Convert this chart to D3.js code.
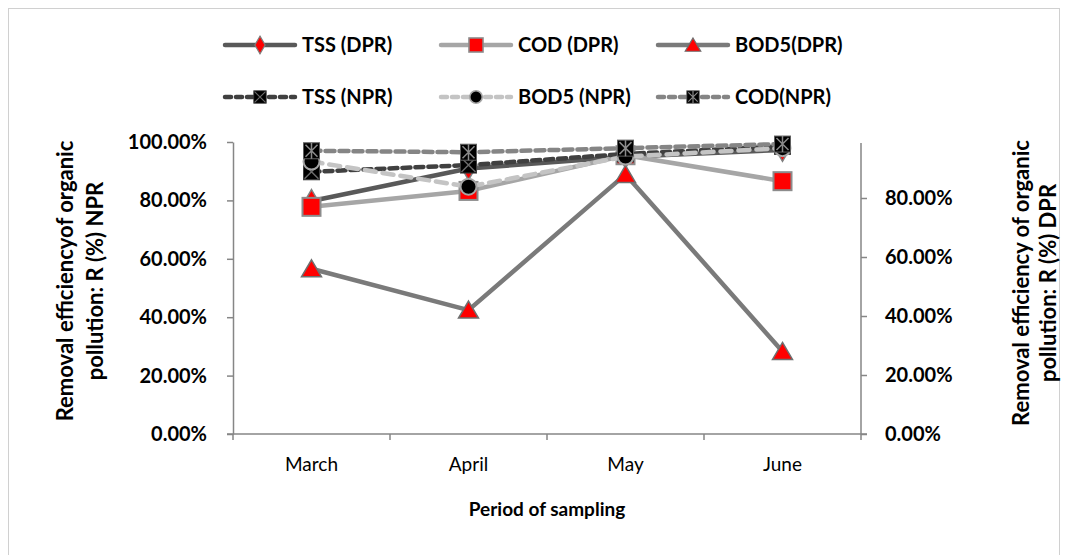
<!DOCTYPE html>
<html>
<head>
<meta charset="utf-8">
<script src="https://cdn.jsdelivr.net/npm/d3@7.9.0/dist/d3.min.js"></script>
<style>
  body { margin: 0; background: #fff; }
  svg { display: block; font-family: Lato, "Open Sans", sans-serif; }
</style>
</head>
<body>
<svg id="chart" width="1067" height="555"></svg>
<script>
// Data
const months = ["March", "April", "May", "June"];
const tssDPR = [0.79, 0.90, 0.94, 0.963];
const codDPR = [0.77, 0.824, 0.945, 0.857];
const bod5DPR = [0.56, 0.42, 0.88, 0.28];
const tssNPR = [0.898, 0.921, 0.959, 0.985];
const bod5NPR = [0.933, 0.847, 0.95, 0.979];
const codNPR = [0.970, 0.965, 0.979, 0.993];
const leftTicks = [0, 0.2, 0.4, 0.6, 0.8, 1.0];
const rightTicks = [0, 0.2, 0.4, 0.6, 0.8];

const svg = d3.select("#chart");
const axisColor = "#868686";

// Outer chart border
svg.append("rect")
  .attr("x", 8.5).attr("y", 8.5)
  .attr("width", 1051).attr("height", 560)
  .attr("fill", "none").attr("stroke", "#d0d0d0");

// Scales
const x = d3.scaleBand().domain(months).range([233, 861]);
const cx = (m) => x(m) + x.bandwidth() / 2;
const yLeft = d3.scaleLinear().domain([0, 1]).range([434, 142]);
const yRight = d3.scaleLinear().domain([0, 0.8]).range([434, 198]);

// Axes
const fmt = d3.format(".2%");
const leftAxis = svg.append("g").attr("transform", "translate(233,0)")
  .call(d3.axisLeft(yLeft).tickValues(leftTicks).tickFormat(fmt).tickSize(6).tickSizeOuter(0).tickPadding(20));
const rightAxis = svg.append("g").attr("transform", "translate(861,0)")
  .call(d3.axisRight(yRight).tickValues(rightTicks).tickFormat(fmt).tickSize(6).tickSizeOuter(0).tickPadding(18));
rightAxis.select(".domain").attr("d", `M0,434V143`);

const xAxis = svg.append("g").attr("transform", "translate(0,434)")
  .call(d3.axisBottom(x).tickSize(0).tickPadding(24));
xAxis.select(".domain").attr("d", "M227,0H867");
// category boundary ticks
xAxis.selectAll(".bound").data(d3.range(months.length + 1)).enter().append("line")
  .attr("class", "bound")
  .attr("x1", (i) => 233 + i * x.bandwidth()).attr("x2", (i) => 233 + i * x.bandwidth())
  .attr("y1", 0).attr("y2", 6)
  .attr("stroke", axisColor).attr("stroke-width", 1.5);

[leftAxis, rightAxis, xAxis].forEach((g) => {
  g.selectAll(".domain").attr("stroke", axisColor).attr("stroke-width", 1.5);
  g.selectAll(".tick line").attr("stroke", axisColor).attr("stroke-width", 1.5);
  g.selectAll("text").attr("fill", "#000").style("font-family", "Lato, sans-serif");
});
leftAxis.selectAll("text").style("font-size", "20px").style("font-weight", "bold");
rightAxis.selectAll("text").style("font-size", "20px").style("font-weight", "bold");
xAxis.selectAll(".tick text").style("font-size", "19px");

// Axis titles
svg.append("text").attr("x", 547).attr("y", 516).attr("text-anchor", "middle")
  .style("font-size", "19px").style("font-weight", "bold").text("Period of sampling");

function axisTitle(xc, yc, gap, lines) {
  const t = svg.append("text")
    .attr("transform", `translate(${xc},${yc}) rotate(-90)`)
    .attr("text-anchor", "middle")
    .style("font-size", "22px").style("font-weight", "bold");
  lines.forEach((l, i) => t.append("tspan").attr("x", 0).attr("dy", i === 0 ? 0 : gap).text(l));
}
axisTitle(73, 281, 30, ["Removal efficiencyof organic", "pollution: R (%) NPR"]);
axisTitle(1029, 283, 27, ["Removal efficiency of organic", "pollution: R (%) DPR"]);

// Marker drawers
const markers = {
  diamond(g) {
    g.append("path").attr("d", d3.symbol(d3.symbolDiamond, 150)())
      .attr("fill", "#ff0000").attr("stroke", "#7f7f7f").attr("stroke-width", 1.5);
  },
  square(g) {
    g.append("rect").attr("x", -9).attr("y", -9).attr("width", 18).attr("height", 18)
      .attr("fill", "#ff0000").attr("stroke", "#8c8c8c").attr("stroke-width", 2);
  },
  triangle(g) {
    g.append("path").attr("d", "M0,-9L10,8H-10Z")
      .attr("fill", "#ff0000").attr("stroke", "#6f6f6f").attr("stroke-width", 1.5);
  },
  xbox(g) {
    g.append("rect").attr("x", -8).attr("y", -8).attr("width", 16).attr("height", 16)
      .attr("fill", "#000").attr("stroke", "#404040").attr("stroke-width", 1);
    g.append("path").attr("d", "M-7,-7L7,7M7,-7L-7,7").attr("stroke", "#6a6a6a").attr("stroke-width", 1.5);
  },
  circle(g) {
    g.append("circle").attr("r", 8).attr("fill", "#000").attr("stroke", "#a6a6a6").attr("stroke-width", 2);
  },
  starbox(g) {
    g.append("rect").attr("x", -8).attr("y", -8).attr("width", 16).attr("height", 16)
      .attr("fill", "#000").attr("stroke", "#606060").attr("stroke-width", 1);
    g.append("path").attr("d", "M-6,-6L6,6M6,-6L-6,6M0,-8V8").attr("stroke", "#8a8a8a").attr("stroke-width", 1.5);
  }
};

const series = [
  { name: "TSS (DPR)", values: tssDPR, y: yRight, color: "#595959", dash: null, marker: "diamond" },
  { name: "COD (DPR)", values: codDPR, y: yRight, color: "#a6a6a6", dash: null, marker: "square" },
  { name: "BOD5(DPR)", values: bod5DPR, y: yRight, color: "#7a7a7a", dash: null, marker: "triangle" },
  { name: "TSS (NPR)", values: tssNPR, y: yLeft, color: "#404040", dash: "8,5", marker: "xbox" },
  { name: "BOD5 (NPR)", values: bod5NPR, y: yLeft, color: "#c4c4c4", dash: "11,7", marker: "circle" },
  { name: "COD(NPR)", values: codNPR, y: yLeft, color: "#858585", dash: "9,5", marker: "starbox" }
];

const line = d3.line();
series.forEach((s) => {
  const pts = months.map((m, i) => [cx(m), s.y(s.values[i])]);
  svg.append("path").attr("d", line(pts))
    .attr("fill", "none").attr("stroke", s.color).attr("stroke-width", 4.5)
    .attr("stroke-dasharray", s.dash)
    .attr("stroke-linecap", s.dash ? "round" : "butt")
    .attr("stroke-linejoin", "round");
  pts.forEach((p) => {
    const g = svg.append("g").attr("transform", `translate(${p[0]},${p[1]})`);
    markers[s.marker](g);
  });
});

// Legend
const legendX = [225, 441, 658];
const legendY = [45, 97];
series.forEach((s, i) => {
  const lx = legendX[i % 3], ly = legendY[Math.floor(i / 3)];
  const g = svg.append("g").attr("transform", `translate(${lx},${ly})`);
  g.append("line").attr("x1", 0).attr("x2", 70).attr("y1", 0).attr("y2", 0)
    .attr("stroke", s.color).attr("stroke-width", 4.5)
    .attr("stroke-dasharray", s.dash ? "6,5" : null)
    .attr("stroke-linecap", "round");
  const mg = g.append("g").attr("transform", "translate(35,0) scale(0.78)");
  markers[s.marker](mg);
  g.append("text").attr("x", 77).attr("y", 7)
    .style("font-size", "20px").style("font-weight", "bold").text(s.name);
});
</script>
</body>
</html>
